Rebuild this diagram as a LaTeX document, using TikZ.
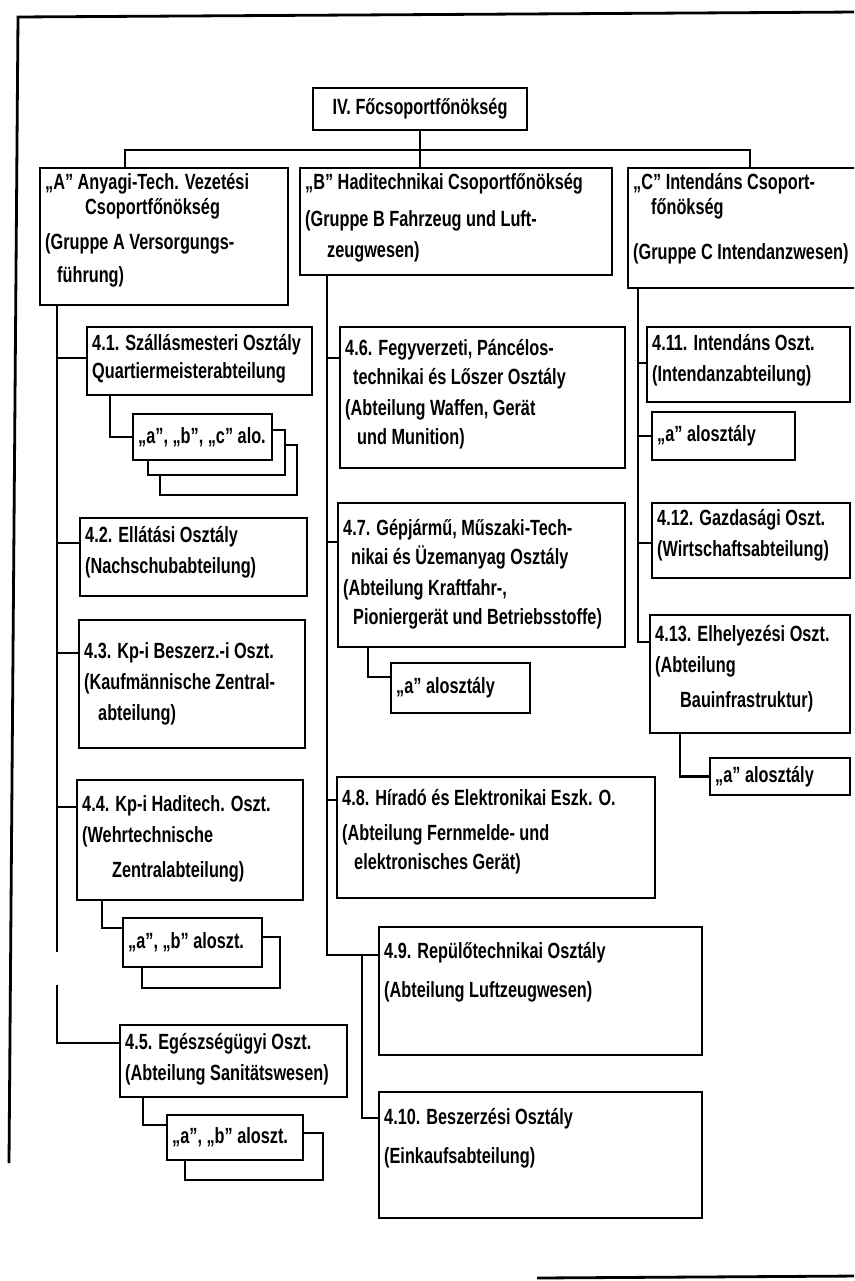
\documentclass[tikz,border=0pt]{standalone}
\usepackage{fontspec}
\newfontfamily\hand{Liberation Sans}[FakeStretch=0.74]
\tikzset{
  box/.style={draw, line width=2.8pt, fill=white, inner sep=0pt, outer sep=0pt},
  txt/.style={anchor=north west, align=left, inner sep=0pt, font=\hand\bfseries\fontsize{22}{31}\selectfont},
  conn/.style={line width=2.8pt, line join=miter}
}
% name, x, y, w, h, top offset, text
\newcommand{\mybox}[7]{%
  \node[box, minimum width=#4pt, minimum height=#5pt] (#1) at ({#2+#4/2},{#3+#5/2}) {};
  \node[txt] (#1t) at ([xshift=5pt,yshift=-#6pt]#1.north west) {#7};}
% single line box: name, x, y, w, h, text
\newcommand{\smbox}[6]{%
  \node[box, minimum width=#4pt, minimum height=#5pt] (#1) at ({#2+#4/2},{#3+#5/2}) {};
  \node[txt, anchor=west] (#1t) at ([xshift=5pt]#1.west) {#6};}
% back box of a stack: name, x, y, w, h
\newcommand{\backbox}[5]{%
  \node[box, minimum width=#4pt, minimum height=#5pt] (#1) at ({#2+#4/2},{#3+#5/2}) {};}
\begin{document}
\begin{tikzpicture}[x=1pt,y=-1pt]
\useasboundingbox (0,0) rectangle (854,1281);
\clip (0,0) rectangle (854,1281);
\fill[white] (0,0) rectangle (854,1281);

% frame
\draw[conn] (9,1163) -- (18,17) -- (860,12);
\draw[conn] (537,1278) -- (860,1276);

% coordinates for connectors
\coordinate (hl) at (125,150);
\coordinate (hr) at (750,150);
\coordinate (spA) at (57,0);
\coordinate (gA1) at (57,952);
\coordinate (gA2) at (57,985);
\coordinate (spB) at (327,0);
\coordinate (spB2) at (362,0);
\coordinate (spC) at (638,0);

% ---- boxes
\node[box, minimum width=214pt, minimum height=42pt, font=\hand\bfseries\fontsize{22}{31}\selectfont] (top) at (420,109) {IV. Főcsoportfőnökség};

\mybox{A}{40}{168}{248}{137}{5}{„A” Anyagi-Tech. Vezetési\\[-6pt]\hspace{40pt}Csoportfőnökség\\[4pt](Gruppe A Versorgungs-\\[2pt]\hspace{12pt}führung)}
\mybox{B}{300}{168}{312}{107}{5}{„B” Haditechnikai Csoportfőnökség\\[6pt](Gruppe B Fahrzeug und Luft-\\\hspace{22pt}zeugwesen)}
\mybox{C}{628}{168}{235}{120}{5}{„C” Intendáns Csoport-\\[-6pt]\hspace{18pt}főnökség\\[14pt](Gruppe C Intendanzwesen)}

% column A
\mybox{b41}{87}{327}{225}{68}{7}{4.1. Szállásmesteri Osztály\\[-3pt]Quartiermeisterabteilung}
\backbox{s41c}{160}{445}{137}{50}
\backbox{s41b}{148}{430}{137}{45}
\smbox{s41}{133}{414}{139}{46}{„a”, „b”, „c” alo.}

\mybox{b42}{80}{518}{227}{78}{8}{4.2. Ellátási Osztály\\(Nachschubabteilung)}
\mybox{b43}{79}{620}{226}{128}{22}{4.3. Kp-i Beszerz.-i Oszt.\\(Kaufmännische Zentral-\\\hspace{14pt}abteilung)}
\mybox{b44}{77}{780}{226}{120}{15}{4.4. Kp-i Haditech. Oszt.\\(Wehrtechnische\\[4pt]\hspace{30pt}Zentralabteilung)}
\backbox{s44b}{142}{937}{138}{51}
\smbox{s44}{123}{918}{139}{49}{„a”, „b” aloszt.}

\mybox{b45}{120}{1025}{227}{72}{8}{4.5. Egészségügyi Oszt.\\(Abteilung Sanitätswesen)}
\backbox{s45b}{185}{1133}{138}{47}
\smbox{s45}{167}{1115}{136}{45}{„a”, „b” aloszt.}

% column B
\mybox{b46}{340}{327}{285}{141}{12}{4.6. Fegyverzeti, Páncélos-\\[-2pt]\hspace{8pt}technikai és Lőszer Osztály\\(Abteilung Waffen, Gerät\\[-2pt]\hspace{12pt}und Munition)}
\mybox{b47}{338}{503}{287}{144}{16}{4.7. Gépjármű, Műszaki-Tech-\\[-2pt]\hspace{8pt}nikai és Üzemanyag Osztály\\(Abteilung Kraftfahr-,\\[-2pt]\hspace{10pt}Pioniergerät und Betriebsstoffe)}
\smbox{s47}{391}{663}{139}{50}{„a” alosztály}
\mybox{b48}{337}{777}{318}{121}{12}{4.8. Híradó és Elektronikai Eszk. O.\\[4pt](Abteilung Fernmelde- und\\[-2pt]\hspace{12pt}elektronisches Gerät)}
\mybox{b49}{379}{927}{323}{128}{15}{4.9. Repülőtechnikai Osztály\\[8pt](Abteilung Luftzeugwesen)}
\mybox{b410}{379}{1092}{323}{126}{16}{4.10. Beszerzési Osztály\\[8pt](Einkaufsabteilung)}

% column C
\mybox{b411}{647}{327}{203}{75}{7}{4.11. Intendáns Oszt.\\(Intendanzabteilung)}
\smbox{s411}{652}{412}{143}{48}{„a” alosztály}
\mybox{b412}{652}{503}{198}{75}{6}{4.12. Gazdasági Oszt.\\(Wirtschaftsabteilung)}
\mybox{b413}{650}{615}{200}{118}{10}{4.13. Elhelyezési Oszt.\\(Abteilung\\[4pt]\hspace{25pt}Bauinfrastruktur)}
\smbox{s413}{710}{758}{140}{37}{„a” alosztály}

% ---- connectors
\draw[conn] (top.south) -- (top.south |- hl);
\draw[conn] (A.north -| hl) -- (hl) -- (hr) -- (C.north -| hr);
\draw[conn] (top.south |- hl) -- (B.north -| top.south);

% column A
\coordinate (j41) at ([yshift=-31pt]b41.north west);
\coordinate (j42) at ([yshift=-25pt]b42.north west);
\coordinate (j43) at ([yshift=-33pt]b43.north west);
\coordinate (j44) at ([yshift=-27pt]b44.north west);
\coordinate (j45) at ([yshift=-18pt]b45.north west);
\draw[conn] (A.south -| spA) -- (gA1);
\draw[conn] (gA2) |- (j45);
\draw[conn] (j41 -| spA) -- (j41);
\draw[conn] (j42 -| spA) -- (j42);
\draw[conn] (j43 -| spA) -- (j43);
\draw[conn] (j44 -| spA) -- (j44);
\draw[conn] ([xshift=23pt]b41.south west) |- (s41.west);
\draw[conn] ([xshift=25pt]b44.south west) |- ([yshift=-10pt]s44.north west);
\draw[conn] ([xshift=23pt]b45.south west) |- ([yshift=-10pt]s45.north west);

% column B
\coordinate (j46) at ([yshift=-31pt]b46.north west);
\coordinate (j47) at ([yshift=-39pt]b47.north west);
\coordinate (j48) at ([yshift=-23pt]b48.north west);
\coordinate (j49) at ([yshift=-28pt]b49.north west);
\coordinate (j410) at ([yshift=-26pt]b410.north west);
\draw[conn] (B.south -| spB) |- (j49);
\draw[conn] (j46 -| spB) -- (j46);
\draw[conn] (j47 -| spB) -- (j47);
\draw[conn] (j48 -| spB) -- (j48);
\draw[conn] (j49 -| spB2) |- (j410);
\draw[conn] ([xshift=30pt]b47.south west) |- ([yshift=-14pt]s47.north west);

% column C
\coordinate (j411) at ([yshift=-36pt]b411.north west);
\coordinate (j412) at ([yshift=-40pt]b412.north west);
\coordinate (j413) at ([yshift=-27pt]b413.north west);
\draw[conn] (C.south -| spC) |- (j413);
\draw[conn] (j411 -| spC) -- (j411);
\draw[conn] (s411.west -| spC) -- (s411.west);
\draw[conn] (j412 -| spC) -- (j412);
\draw[conn] ([xshift=30pt]b413.south west) |- (s413.west);
\end{tikzpicture}
\end{document}
